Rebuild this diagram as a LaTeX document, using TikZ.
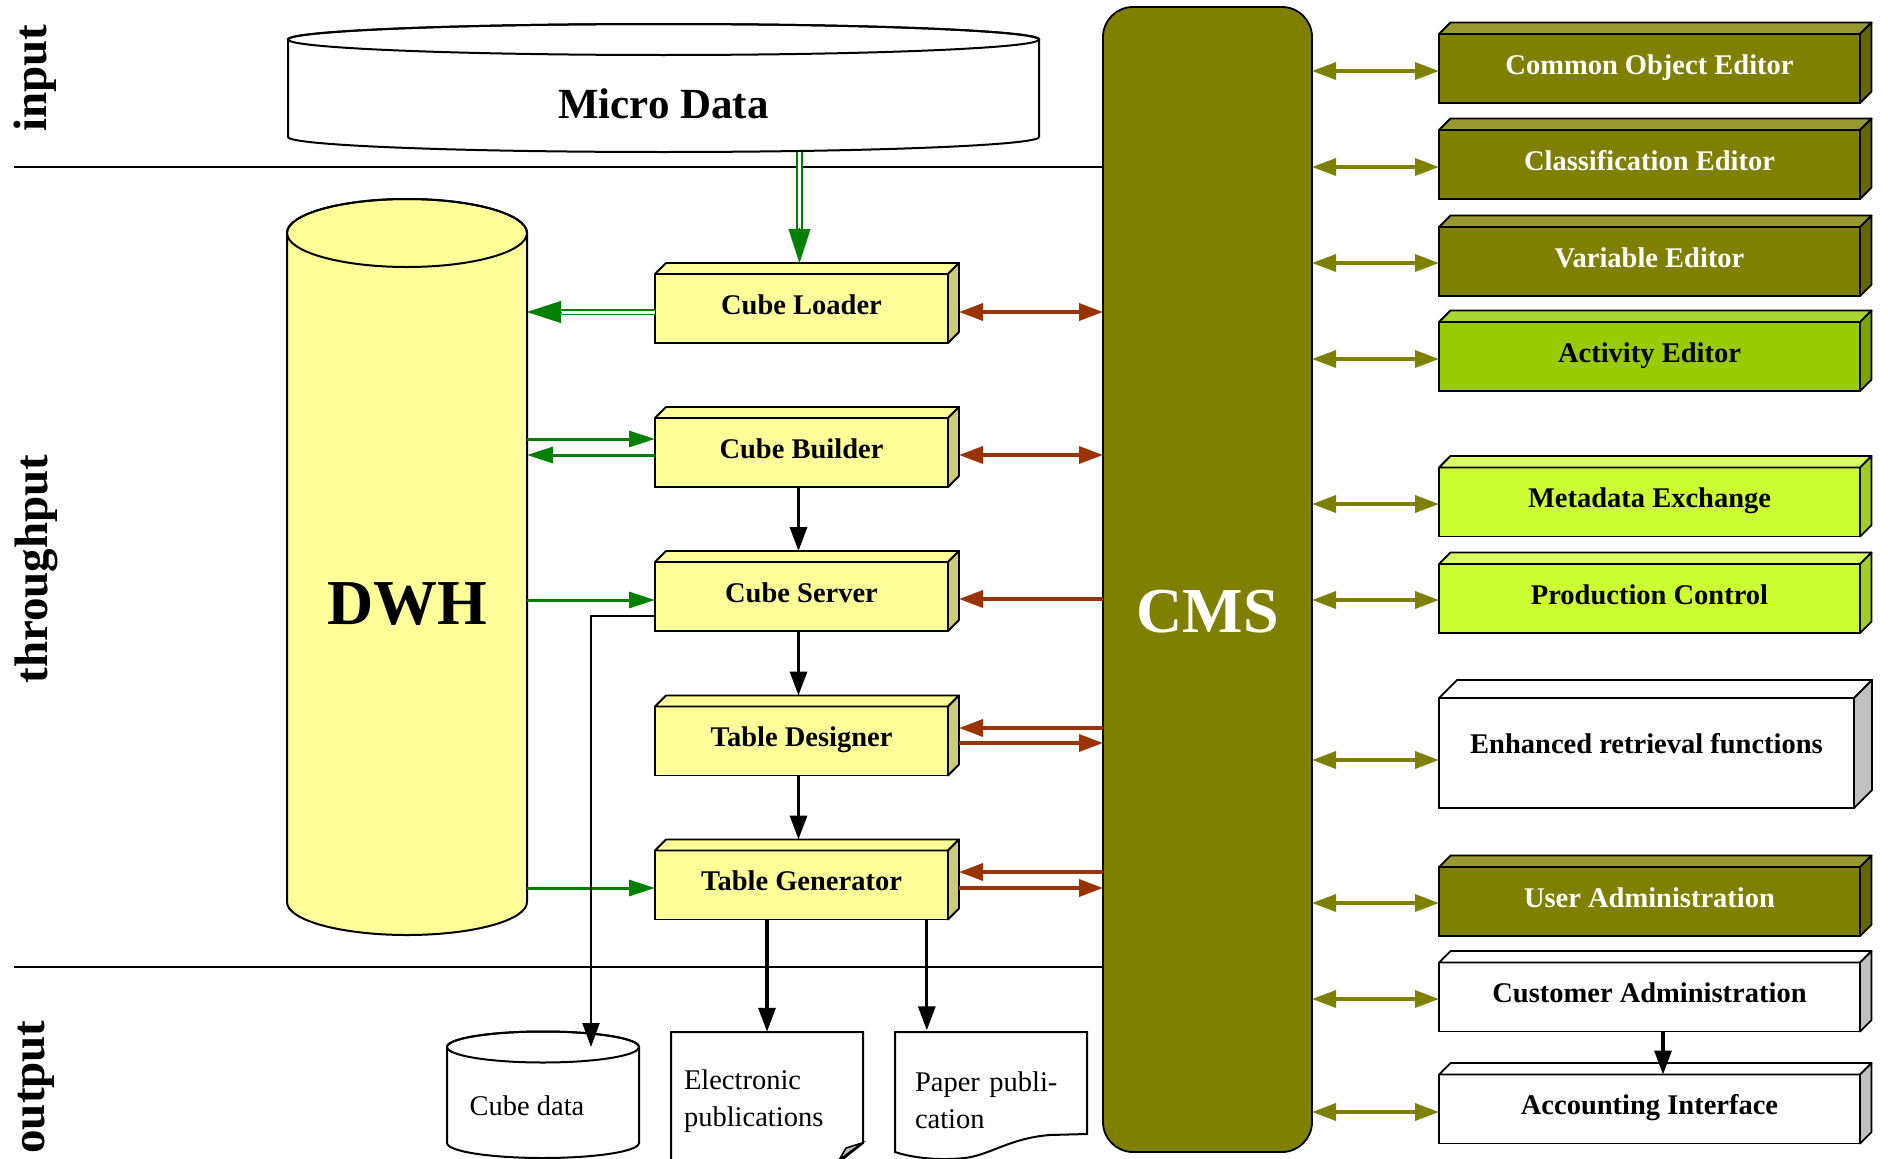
\documentclass[tikz,border=0pt]{standalone}
\usepackage{fontspec}
\setmainfont{Liberation Serif}
\usetikzlibrary{arrows.meta,calc}

\definecolor{cubefront}{HTML}{FFFF99}
\definecolor{cubeside}{HTML}{CCCC77}
\definecolor{olivefront}{HTML}{808000}
\definecolor{olivetop}{HTML}{999933}
\definecolor{oliveside}{HTML}{666600}
\definecolor{actfront}{HTML}{99CC00}
\definecolor{acttop}{HTML}{A8D633}
\definecolor{actside}{HTML}{7AA300}
\definecolor{limefront}{HTML}{CCFF33}
\definecolor{limetop}{HTML}{D9FF66}
\definecolor{limeside}{HTML}{A3CC29}
\definecolor{greyside}{HTML}{C0C0C0}
\definecolor{flowgreen}{HTML}{008000}
\definecolor{flowred}{HTML}{993300}

% top and right faces of a raised box: node, depth, top colour, side colour
\newcommand\raisedfaces[4]{%
  \filldraw[facedge, fill=#3] (#1.north west) -- ++(#2,-#2) -- ($(#1.north east)+(#2,-#2)$) -- (#1.north east) -- cycle;
  \filldraw[facedge, fill=#4] (#1.north east) -- ($(#1.north east)+(#2,-#2)$) -- ($(#1.south east)+(#2,-#2)$) -- (#1.south east) -- cycle;
}

\begin{document}
\begin{tikzpicture}[x=1pt, y=-1pt,
  facedge/.style={draw=black, line width=1.8pt, line join=round},
  module/.style={draw=black, line width=1.8pt, outer sep=0pt, inner sep=0pt,
    font=\fontsize{28.5}{34}\selectfont\bfseries, text height=20pt, text depth=9pt},
  cubemod/.style={module, fill=cubefront, minimum width=293, minimum height=69},
  toolmod/.style={module, minimum width=421, minimum height=69},
  sidelabel/.style={rotate=90, font=\fontsize{47}{47}\selectfont\bfseries, inner sep=0pt},
  plaintext/.style={font=\fontsize{28.5}{37}\selectfont, inner sep=0pt, align=left},
  sepline/.style={draw=black, line width=1.6pt},
  olivelink/.style={draw=olivefront, line width=3.5pt, >={Triangle[length=24pt,width=17pt]}, <->},
  redlink/.style={draw=flowred, line width=3.5pt, >={Triangle[length=24pt,width=17pt]}},
  greenlink/.style={draw=flowgreen, line width=3pt, -{Triangle[length=26pt,width=16pt]}},
  greendouble/.style={draw=flowgreen, line width=1.8pt, double=white, double distance=3pt, shorten >=32pt},
  greenhead/.style={draw=flowgreen, line width=0.1pt, -{Triangle[length=34pt,width=22pt]}},
  blackflow/.style={draw=black, line width=3.3pt, -{Triangle[length=24pt,width=17pt]}},
  blackthin/.style={draw=black, line width=2.2pt, -{Triangle[length=24pt,width=17pt]}},
]
\useasboundingbox (0,0) rectangle (1888,1159);
\clip (0,0) rectangle (1888,1159);

% section labels
\node[sidelabel] (lblin) at (35,78) {input};
\node[sidelabel] (lblthru) at (36,569) {throughput};
\node[sidelabel] (lblout) at (36,1087) {output};

% central bus
\node[draw=black, line width=1.8pt, fill=olivefront, rounded corners=30pt,
      minimum width=209, minimum height=1145, outer sep=0pt, inner sep=0pt,
      text=white, font=\fontsize{64}{64}\selectfont\bfseries,
      text height=106pt, text depth=0pt] (cms) at (1207.5,579.5) {CMS};

% separators between input, throughput and output
\coordinate (sepTop) at (14,167);
\coordinate (sepBot) at (14,967);
\draw[sepline] (sepTop) -- (sepTop -| cms.west);
\draw[sepline] (sepBot) -- (sepBot -| cms.west);

% Micro Data store
\filldraw[fill=white, draw=black, line width=2pt]
  (288,39.5) -- (288,137) arc[start angle=180, end angle=0, x radius=375.5, y radius=15]
  -- (1039,39.5) arc[start angle=0, end angle=-180, x radius=375.5, y radius=15.5] -- cycle;
\draw[line width=2pt] (663.5,39.5) ellipse[x radius=375.5, y radius=15.5];
\node[font=\fontsize{43}{43}\selectfont\bfseries, minimum width=751, minimum height=128,
      inner sep=0pt, outer sep=0pt, text height=60pt, text depth=0pt] (micro) at (663.5,88) {Micro Data};

% data warehouse
\filldraw[fill=cubefront, draw=black, line width=2pt]
  (287,233) -- (287,902) arc[start angle=180, end angle=0, x radius=120, y radius=33]
  -- (527,233) arc[start angle=0, end angle=-180, x radius=120, y radius=34] -- cycle;
\draw[line width=2pt] (407,233) ellipse[x radius=120, y radius=34];
\node[font=\fontsize{64}{64}\selectfont\bfseries, minimum width=240, minimum height=702,
      inner sep=0pt, outer sep=0pt, text height=113pt, text depth=0pt] (dwh) at (407,567.5) {DWH};

% cube modules
\node[cubemod] (loader) at (801.5,308.5) {Cube Loader};
\raisedfaces{loader}{11}{cubefront}{cubeside}
\node[cubemod] (builder) at (801.5,452.5) {Cube Builder};
\raisedfaces{builder}{11}{cubefront}{cubeside}
\node[cubemod] (server) at (801.5,596.5) {Cube Server};
\raisedfaces{server}{11}{cubefront}{cubeside}
\node[cubemod] (designer) at (801.5,741) {Table Designer};
\raisedfaces{designer}{11}{cubefront}{cubeside}
\node[cubemod] (generator) at (801.5,885) {Table Generator};
\raisedfaces{generator}{11}{cubefront}{cubeside}

% tools attached to the bus
\node[toolmod, fill=olivefront, text=white] (common) at (1649.5,68.5) {Common Object Editor};
\raisedfaces{common}{11.5}{olivetop}{oliveside}
\node[toolmod, fill=olivefront, text=white] (classif) at (1649.5,164.5) {Classification Editor};
\raisedfaces{classif}{11.5}{olivetop}{oliveside}
\node[toolmod, fill=olivefront, text=white] (variable) at (1649.5,261.5) {Variable Editor};
\raisedfaces{variable}{11.5}{olivetop}{oliveside}
\node[toolmod, fill=actfront] (activity) at (1649.5,356.5) {Activity Editor};
\raisedfaces{activity}{11.5}{acttop}{actside}
\node[toolmod, fill=limefront] (metadata) at (1649.5,502) {Metadata Exchange};
\raisedfaces{metadata}{11.5}{limetop}{limeside}
\node[toolmod, fill=limefront] (production) at (1649.5,598.5) {Production Control};
\raisedfaces{production}{11.5}{limetop}{limeside}
\node[module, fill=white, minimum width=415, minimum height=110, text depth=20pt] (enhanced) at (1646.5,753) {Enhanced retrieval functions};
\raisedfaces{enhanced}{18}{white}{greyside}
\node[toolmod, fill=olivefront, text=white] (user) at (1649.5,901.5) {User Administration};
\raisedfaces{user}{11.5}{olivetop}{oliveside}
\node[toolmod, fill=white] (customer) at (1649.5,997) {Customer Administration};
\raisedfaces{customer}{11.5}{white}{greyside}
\node[toolmod, fill=white] (accounting) at (1649.5,1109) {Accounting Interface};
\raisedfaces{accounting}{11.5}{white}{greyside}

% outputs
\filldraw[fill=white, draw=black, line width=2pt]
  (447,1047) -- (447,1143) arc[start angle=180, end angle=0, x radius=96, y radius=15]
  -- (639,1047) arc[start angle=0, end angle=-180, x radius=96, y radius=15.5] -- cycle;
\draw[line width=2pt] (543,1047) ellipse[x radius=96, y radius=15.5];
\node[plaintext] (cubedata) at (527,1106) {Cube data};

\filldraw[fill=white, draw=black, line width=2pt]
  (671,1180) -- (671,1032) -- (863,1032) -- (863,1143) -- (839,1162) -- (839,1180);
\filldraw[fill=greyside, draw=black, line width=1.5pt] (862,1143) -- (846,1148) -- (839,1160) -- cycle;
\node[plaintext, minimum height=139, inner xsep=13pt, text width=166pt] (elec) at (767,1101.5) {Electronic\\publications};

\filldraw[fill=white, draw=black, line width=2pt]
  (895,1152) -- (895,1032) -- (1087,1032) -- (1087,1134) -- (1050,1135)
  .. controls (1010,1138) and (990,1155) .. (965,1158)
  .. controls (935,1161) and (910,1157) .. (895,1152) -- cycle;
\node[plaintext, minimum height=139, inner xsep=20pt, text width=152pt] (paper) at (991,1100) {Paper publi-\\cation};

% bus links
\foreach \b/\d in {common/2.5, classif/2.5, variable/1.5, activity/2.5, metadata/2,
                   production/1.5, enhanced/7, user/1.5, customer/2, accounting/3} {
  \coordinate (\b-in) at ($(\b.west)+(0,\d)$);
  \draw[olivelink] (\b-in -| cms.east) -- (\b-in);
}

\coordinate (ldR) at ($(loader.east)+(11,3.5)$);
\draw[redlink, <->] (ldR) -- (ldR -| cms.west);
\coordinate (bR) at ($(builder.east)+(11,2.5)$);
\draw[redlink, <->] (bR) -- (bR -| cms.west);
\coordinate (sR) at ($(server.east)+(11,2.5)$);
\draw[redlink, ->] (sR -| cms.west) -- (sR);
\coordinate (dR1) at ($(designer.east)+(11,-13)$);
\draw[redlink, ->] (dR1 -| cms.west) -- (dR1);
\coordinate (dR2) at ($(designer.east)+(11,2)$);
\draw[redlink, ->] (dR2) -- (dR2 -| cms.west);
\coordinate (gR1) at ($(generator.east)+(11,-13)$);
\draw[redlink, ->] (gR1 -| cms.west) -- (gR1);
\coordinate (gR2) at ($(generator.east)+(11,3)$);
\draw[redlink, ->] (gR2) -- (gR2 -| cms.west);

% data flows
\coordinate (loaderTop) at ([xshift=-2pt,yshift=11pt]loader.north);
\draw[greendouble] (micro.south -| loaderTop) -- (loaderTop);
\draw[greenhead] ([yshift=35pt]loaderTop) -- (loaderTop);

\coordinate (ldL) at ($(loader.west)+(0,3.5)$);
\coordinate (ldD) at (ldL -| dwh.east);
\draw[greendouble] (ldL) -- (ldD);
\draw[greenhead] ([xshift=35pt]ldD) -- (ldD);

\coordinate (bIn) at ($(builder.west)+(0,-13.5)$);
\coordinate (bOut) at ($(builder.west)+(0,2.5)$);
\draw[greenlink] (bIn -| dwh.east) -- (bIn);
\draw[greenlink] (bOut) -- (bOut -| dwh.east);
\coordinate (sIn) at ($(server.west)+(0,3.5)$);
\draw[greenlink] (sIn -| dwh.east) -- (sIn);
\coordinate (gIn) at ($(generator.west)+(0,3)$);
\draw[greenlink] (gIn -| dwh.east) -- (gIn);

\draw[blackflow] ([xshift=-3pt]builder.south) -- ([xshift=-3pt,yshift=11pt]server.north);
\draw[blackflow] ([xshift=-3pt]server.south) -- ([xshift=-3pt,yshift=11pt]designer.north);
\draw[blackflow] ([xshift=-3pt]designer.south) -- ([xshift=-3pt,yshift=11pt]generator.north);

\coordinate (srvOut) at ($(server.west)+(0,19.5)$);
\coordinate (cubeIn) at (591,1047);
\draw[blackthin] (srvOut) -| (cubeIn);

\draw[blackflow] (elec.north |- generator.south) -- (elec.north);
\coordinate (paperIn) at ($(paper.north west)+(32,0)$);
\draw[blackflow] (paperIn |- generator.south) -- (paperIn);

\coordinate (custOut) at ($(customer.south)+(13.5,0)$);
\draw[blackflow] (custOut) -- (custOut |- accounting.north);
\end{tikzpicture}
\end{document}
